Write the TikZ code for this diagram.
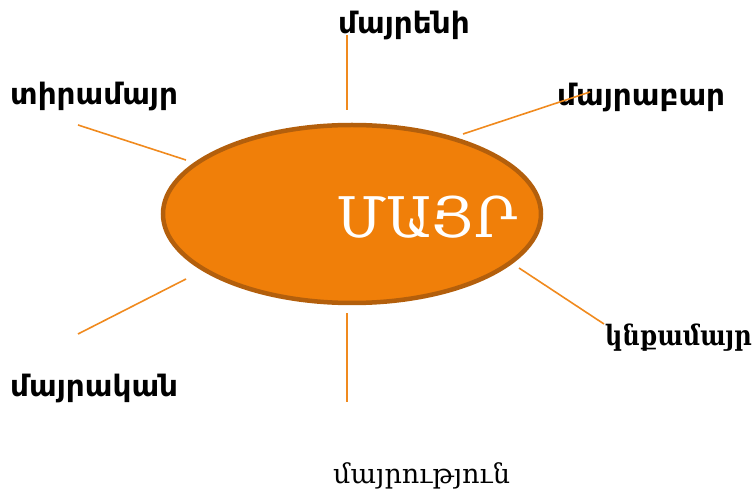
\documentclass[tikz,border=0pt]{standalone}
\usepackage{fontspec}
\usetikzlibrary{shapes.geometric}
\newfontfamily\armsans{DejaVu Sans}
\newfontfamily\armserif{DejaVu Serif}
\newfontfamily\armserifc[FakeStretch=0.86]{DejaVu Serif}
\definecolor{ofill}{HTML}{F07F09}
\definecolor{oedge}{HTML}{B35F0C}
\definecolor{oline}{HTML}{F08A1E}
\begin{document}
\begin{tikzpicture}[x=1pt,y=-1pt,
  spoke/.style={draw=oline,line width=1.6pt},
  lab/.style={font=\armsans\bfseries\fontsize{29.5}{32}\selectfont,inner sep=0pt},
  labserif/.style={font=\armserif\fontsize{27}{30}\selectfont,inner sep=0pt}]
\useasboundingbox (0,0) rectangle (756,494);
\node[ellipse,draw=oedge,fill=ofill,line width=4.5pt,minimum width=378pt,minimum height=178pt] (c) at (352,214) {};
\node[font=\armserif\fontsize{56}{60}\selectfont,text=white,inner sep=0pt] (m) at (427,217) {ՄԱՅՐ};
\node[lab,anchor=west] (t1) at (338,25) {մայրենի};
\node[lab,anchor=west] (t2) at (10,96) {տիրամայր};
\node[lab,anchor=west] (t3) at (557,97) {մայրաբար};
\node[labserif,anchor=west,font=\armserifc\bfseries\fontsize{28}{30}\selectfont] (t4) at (605,338) {կնքամայր};
\node[lab,anchor=west] (t5) at (10,388) {մայրական};
\node[labserif,anchor=west] (t6) at (333,476) {մայրություն};
\coordinate (a1) at (347,35); \coordinate (b1) at (347,110);
\coordinate (a2) at (590,92); \coordinate (b2) at (463,134);
\coordinate (a3) at (78,125); \coordinate (b3) at (186,160);
\coordinate (a4) at (78,334); \coordinate (b4) at (186,279);
\coordinate (a5) at (604,324); \coordinate (b5) at (519,268);
\coordinate (a6) at (347,402); \coordinate (b6) at (347,313);
\foreach \i in {1,...,6} {\draw[spoke] (a\i) -- (b\i);}
\end{tikzpicture}
\end{document}
